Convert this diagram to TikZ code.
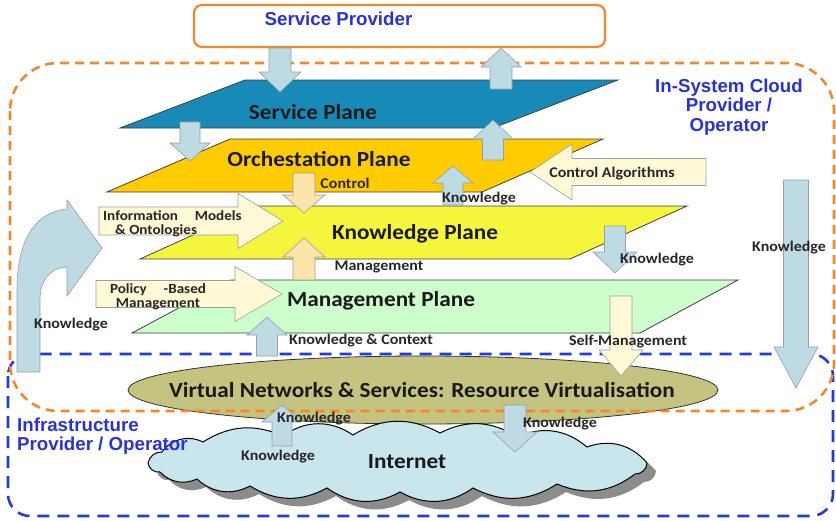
\documentclass[tikz,border=0pt]{standalone}
\usepackage{fontspec}
\setmainfont{Carlito}[FakeStretch=1.08]
\newfontfamily\arialfont{Liberation Sans}
\usetikzlibrary{shapes.geometric}
\definecolor{orangeB}{RGB}{245,135,42}
\definecolor{blueB}{RGB}{30,60,225}
\definecolor{bluetext}{RGB}{40,50,220}
\definecolor{svc}{RGB}{23,138,184}
\definecolor{orch}{RGB}{255,204,0}
\definecolor{know}{RGB}{245,245,60}
\definecolor{mgmt}{RGB}{204,255,204}
\definecolor{olive}{RGB}{196,196,128}
\definecolor{cloudc}{RGB}{200,230,236}
\definecolor{arrB}{RGB}{190,218,226}
\definecolor{arrY}{RGB}{255,249,214}
\definecolor{arrO}{RGB}{250,228,170}
\definecolor{edgeG}{RGB}{150,160,165}
\newcommand\vblock[7]{%
 \draw[#7] ({#1-#5},#2) -- ({#1-#5},#3) -- ({#1-#6},#3) -- (#1,#4) -- ({#1+#6},#3) -- ({#1+#5},#3) -- ({#1+#5},#2) -- cycle;}
\newcommand\hblock[7]{%
 \draw[#7] (#2,{#1-#5}) -- (#3,{#1-#5}) -- (#3,{#1-#6}) -- (#4,#1) -- (#3,{#1+#6}) -- (#3,{#1+#5}) -- (#2,{#1+#5}) -- cycle;}
\newcommand\cloudoutline{(148,463) to[bend left=40] (162,452) to[bend left=40] (203,442) to[bend left=28] (283,436) to[bend left=35] (353,435) to[bend left=30] (440,433) to[bend left=30] (517,437) to[bend left=32] (587,447) to[bend left=35] (647,463) to[bend left=45] (635,474) to[bend left=30] (557,484) to[bend left=30] (473,488) to[bend left=32] (400,492) to[bend left=32] (327,488) to[bend left=30] (250,486) to[bend left=35] (197,479) to[bend left=35] (160,472) to[bend left=45] (148,463) -- cycle}
\tikzset{
 plane/.style={draw=black!75, line width=0.8pt},
 barrow/.style={fill=arrB, draw=edgeG, line width=0.6pt},
 yarrow/.style={fill=arrY, draw=edgeG, line width=0.6pt},
 oarrow/.style={fill=arrO, draw=edgeG, line width=0.6pt},
 title/.style={font=\bfseries\fontsize{21.5}{24}\selectfont, text=black!90, inner sep=0pt},
 lbl/.style={font=\bfseries\fontsize{14.8}{16}\selectfont, text=black!85, inner sep=0pt},
 lbltwo/.style={font=\bfseries\fontsize{14}{15}\selectfont, text=black!85, inner sep=0pt},
 bluelbl/.style={font=\arialfont\bfseries\fontsize{18.7}{19.5}\selectfont, text=bluetext, inner sep=0pt},
}
\begin{document}
\begin{tikzpicture}[x=1pt,y=-1pt]
\useasboundingbox (0,0) rectangle (836,520);
% infrastructure provider box
\draw[blueB, line width=2.6pt, dash pattern=on 12pt off 8pt, rounded corners=22pt] (8,354) rectangle (833,516);
% service provider box
\draw[orangeB, line width=2.2pt, rounded corners=8pt, fill=white] (194,5) rectangle (605,47);
% planes
\draw[plane, fill=svc] (120,128) -- (245,80) -- (618,80) -- (493,128) -- cycle;
\draw[plane, fill=orch] (107,192) -- (230,139) -- (603,139) -- (482,192) -- cycle;
\draw[plane, fill=know] (140,259) -- (257,206) -- (687,206) -- (570,259) -- cycle;
\draw[plane, fill=mgmt] (132,333) -- (231,280) -- (738,280) -- (640,333) -- cycle;
% virtual networks ellipse
\node[ellipse, draw=black!80, line width=0.8pt, fill=olive, minimum width=590pt, minimum height=68pt, inner sep=0pt] (vn) at (423,390) {};
% in-system cloud provider box
\draw[orangeB, line width=2.6pt, dash pattern=on 9pt off 6pt, rounded corners=48pt] (10,63) rectangle (834,411);
% block arrows
\vblock{280}{48}{72}{92}{11}{21}{barrow}
\vblock{501}{89}{67}{48}{11}{20}{barrow}
\vblock{190}{122}{143}{161}{10}{20}{barrow}
\vblock{493}{160}{139}{120}{10.5}{20}{barrow}
\hblock{172}{706}{572}{530}{13.5}{28}{yarrow}
\vblock{453}{205}{183}{166}{10}{20}{barrow}
\vblock{304}{173}{195}{213}{11}{21}{oarrow}
\hblock{221}{99}{238}{283}{14}{27.5}{yarrow}
\vblock{304}{280}{257}{238}{11}{21}{oarrow}
\hblock{294}{96}{235}{282}{13.5}{27.5}{yarrow}
\vblock{267}{356}{335}{317}{10.5}{20}{barrow}
\vblock{615}{226}{252}{273}{10.5}{22}{barrow}
\vblock{621}{296}{350}{376}{11}{22}{yarrow}
\vblock{796}{180}{347}{388}{12.5}{22}{barrow}
% curved knowledge arrow
\draw[barrow] (17,372) -- (17,290) .. controls (17,240) and (35,212) .. (67,209) -- (67,200) -- (102,248) -- (67,296) -- (67,267) .. controls (50,268) and (40,280) .. (40,300) -- (40,372) -- cycle;
% internet cloud with shadow
\fill[black!45, shift={(9,8)}] \cloudoutline;
\draw[fill=cloudc, draw=black, line width=1pt] \cloudoutline;
\vblock{282}{446}{422}{405}{10}{20}{barrow}
\vblock{515}{405}{432}{452}{11}{22}{barrow}
% titles
\node[bluelbl] (sp) at (338.5,19) {Service Provider};
\node[bluelbl, align=center] (isc) at (729,107) {In-System Cloud\\Provider /\\Operator};
\node[bluelbl, align=left, anchor=west] (ip) at (17,436) {Infrastructure\\Provider / Operator};
\node[title] (tsvc) at (313,112) {Service Plane};
\node[title] (torch) at (319,159) {Orchestation Plane};
\node[title] (tknow) at (415,234) {Knowledge Plane};
\node[title] (tmgmt) at (381,301) {Management Plane};
\node[title] (tvn) at (422,390) {Virtual Networks \& Services: Resource Virtualisation};
\node[title] (tint) at (407,462) {Internet};
% labels
\node[lbl] (lctrl) at (345,183) {Control};
\node[lbl] (lk1) at (479,199) {Knowledge};
\node[lbl] (lca) at (612,174) {Control Algorithms};
\node[lbltwo, anchor=base west] (lim1) at (103,220) {Information\hspace{1.2em}Models};
\node[lbltwo, anchor=base west] (lim2) at (115,234) {\& Ontologies};
\node[lbl] (lmg) at (379,267) {Management};
\node[lbl] (lk2) at (657,260) {Knowledge};
\node[lbltwo, anchor=base] (lpb1) at (158,293) {Policy\hspace{1.2em}-Based};
\node[lbltwo, anchor=base] (lpb2) at (158,307) {Management};
\node[lbl] (lk3) at (71,325) {Knowledge};
\node[lbl] (lkc) at (361,341) {Knowledge \& Context};
\node[lbl] (lsm) at (628,342) {Self-Management};
\node[lbl] (lk4) at (789,248) {Knowledge};
\node[lbl] (lk5) at (314,419) {Knowledge};
\node[lbl] (lk6) at (560,424) {Knowledge};
\node[lbl] (lk7) at (278,457) {Knowledge};
\end{tikzpicture}
\end{document}
